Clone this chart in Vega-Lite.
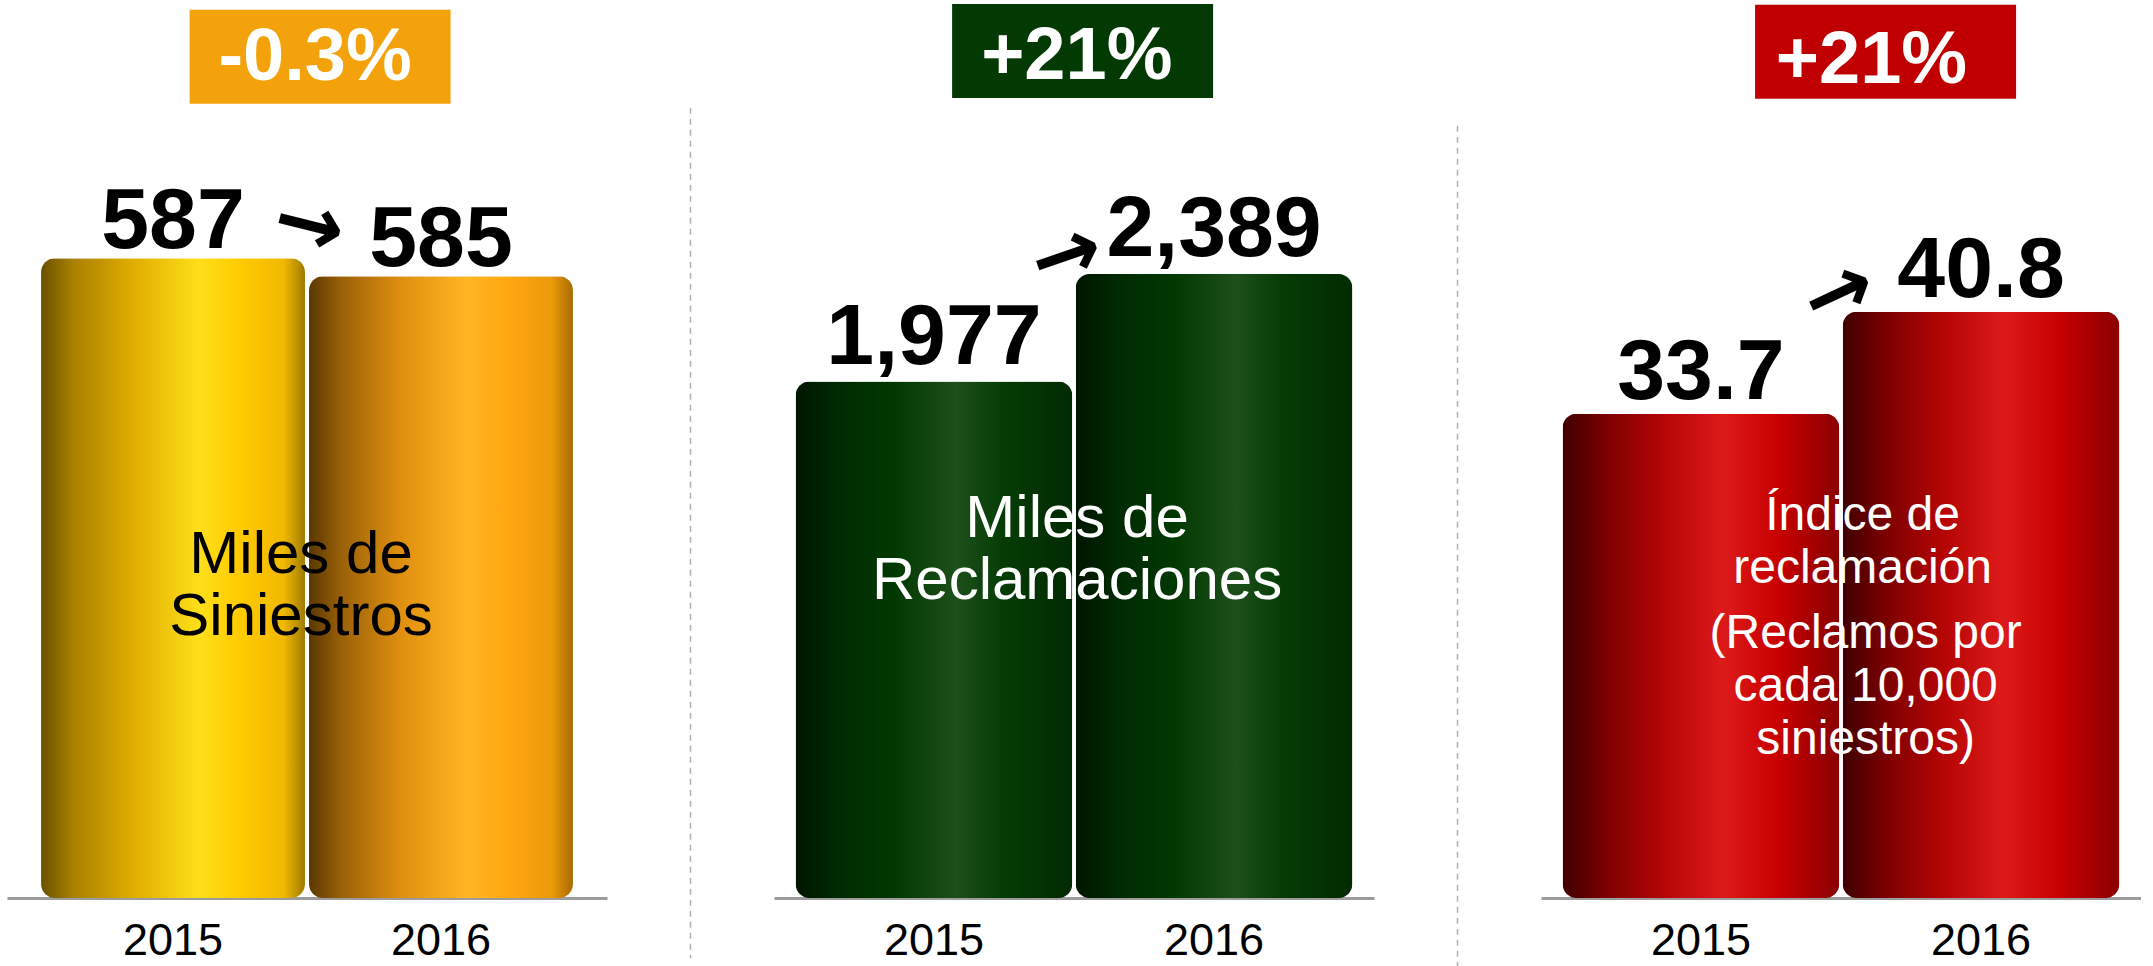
{
  "$schema": "https://vega.github.io/schema/vega-lite/v6.json",
  "background": "white",
  "padding": {"left": 7, "top": 0, "right": 0, "bottom": 0},
  "spacing": 83,
  "bounds": "flush",
  "config": {"view": {"stroke": null}, "font": "Liberation Sans"},
  "datasets": {
    "bars": [
      {"panel": "siniestros", "year": "2015", "v": 587},
      {"panel": "siniestros", "year": "2016", "v": 585},
      {"panel": "reclamaciones", "year": "2015", "v": 1977},
      {"panel": "reclamaciones", "year": "2016", "v": 2389},
      {"panel": "indice", "year": "2015", "v": 33.7},
      {"panel": "indice", "year": "2016", "v": 40.8}
    ],
    "notes": [
      {"panel": "siniestros", "from": "2015", "to": "2016", "change": "-0.3%", "label": ["Miles de", "Siniestros"], "label2": [""]},
      {"panel": "reclamaciones", "from": "2015", "to": "2016", "change": "+21%", "label": ["Miles de", "Reclamaciones"], "label2": [""]},
      {"panel": "indice", "from": "2015", "to": "2016", "change": "+21%", "label": ["Índice de", "reclamación"], "label2": ["(Reclamos por", "cada 10,000", "siniestros)"]}
    ]
  },
  "hconcat": [
    {
      "width": 600, "height": 898,
      "layer": [
        {"data": {"name": "bars"}, "transform": [{"filter": "datum.panel === 'siniestros' && datum.year === '2015'"}],
         "mark": {"type": "bar", "cornerRadius": 14, "color": {"gradient": "linear", "x1": 0, "y1": 0, "x2": 1, "y2": 0, "stops": [
           {"offset": 0, "color": "#6a5000"}, {"offset": 0.12, "color": "#a88000"}, {"offset": 0.35, "color": "#e0ae00"}, {"offset": 0.6, "color": "#ffdf1a"}, {"offset": 0.75, "color": "#ffcb00"}, {"offset": 0.92, "color": "#f0b800"}, {"offset": 1, "color": "#a07a00"}]}},
         "encoding": {
           "x": {"field": "year", "type": "nominal", "scale": {"domain": ["2015", "2016"], "paddingInner": 0.015, "paddingOuter": 0.127},
             "axis": {"title": null, "labelAngle": 0, "ticks": false, "domainColor": "#9c9c9c", "domainWidth": 3, "labelFontSize": 45, "labelColor": "black", "labelPadding": 56, "labelBaseline": "alphabetic", "labelFont": "Liberation Sans"}},
           "y": {"field": "v", "type": "quantitative", "scale": {"domain": [515.9, 615.7], "zero": false, "nice": false, "clamp": true}, "axis": null}
         }},
        {"data": {"name": "bars"}, "transform": [{"filter": "datum.panel === 'siniestros' && datum.year === '2016'"}],
         "mark": {"type": "bar", "cornerRadius": 14, "color": {"gradient": "linear", "x1": 0, "y1": 0, "x2": 1, "y2": 0, "stops": [
           {"offset": 0, "color": "#5a3800"}, {"offset": 0.12, "color": "#9a6008"}, {"offset": 0.35, "color": "#e09010"}, {"offset": 0.6, "color": "#ffb522"}, {"offset": 0.75, "color": "#ffa812"}, {"offset": 0.92, "color": "#eb9a0a"}, {"offset": 1, "color": "#a86a00"}]}},
         "encoding": {"x": {"field": "year", "type": "nominal"}, "y": {"field": "v", "type": "quantitative"}}},
        {"data": {"name": "bars"}, "transform": [{"filter": "datum.panel === 'siniestros'"}],
         "mark": {"type": "text", "font": "Liberation Sans", "fontWeight": "bold", "fontSize": 86, "baseline": "alphabetic", "dy": -10, "color": "black"},
         "encoding": {"x": {"field": "year", "type": "nominal"}, "y": {"field": "v", "type": "quantitative"}, "text": {"field": "v", "type": "quantitative", "format": "d"}}},
        {"data": {"name": "notes"}, "transform": [{"filter": "datum.panel === 'siniestros'"}],
         "mark": {"type": "point", "shape": "M-1,-0.36L1,-0.36L1,0.36L-1,0.36Z", "size": 68121, "filled": true, "opacity": 1, "color": "#f3a20b"},
         "encoding": {"x": {"field": "to", "type": "nominal", "bandPosition": 0.042}, "y": {"datum": 609.4, "type": "quantitative"}}},
        {"data": {"name": "notes"}, "transform": [{"filter": "datum.panel === 'siniestros'"}],
         "mark": {"type": "text", "font": "Liberation Sans", "fontWeight": "bold", "fontSize": 74, "baseline": "alphabetic", "color": "white"},
         "encoding": {"x": {"field": "to", "type": "nominal", "bandPosition": 0.023}, "y": {"datum": 606.8, "type": "quantitative"}, "text": {"field": "change"}}},
        {"data": {"name": "notes"}, "transform": [{"filter": "datum.panel === 'siniestros'"}],
         "mark": {"type": "text", "font": "DejaVu Sans", "fontWeight": "bold", "fontSize": 84, "baseline": "middle", "angle": 14, "color": "black", "text": "→"},
         "encoding": {"x": {"field": "to", "type": "nominal", "bandPosition": 0}, "y": {"datum": 590.5, "type": "quantitative"}}},
        {"data": {"name": "notes"}, "transform": [{"filter": "datum.panel === 'siniestros'"}],
         "mark": {"type": "text", "font": "Liberation Sans", "fontSize": 60, "lineHeight": 62, "baseline": "alphabetic", "color": "black"},
         "encoding": {"x": {"field": "from", "type": "nominal", "bandPosition": 0.985}, "y": {"datum": 552.0, "type": "quantitative"}, "text": {"field": "label"}}}
      ]
    },
    {
      "width": 1, "height": 898,
      "data": {"values": [{"sep": 1}]},
      "mark": {"type": "rule", "strokeDash": [6, 5], "color": "#b0b0b0", "strokeWidth": 1.5},
      "encoding": {"y": {"datum": 0.88, "type": "quantitative", "scale": {"domain": [0, 1], "nice": false}, "axis": null}, "y2": {"datum": -0.067}}
    },
    {
      "width": 600, "height": 898,
      "layer": [
        {"data": {"name": "bars"}, "transform": [{"filter": "datum.panel === 'reclamaciones'"}],
         "mark": {"type": "bar", "cornerRadius": 14, "color": {"gradient": "linear", "x1": 0, "y1": 0, "x2": 1, "y2": 0, "stops": [
           {"offset": 0, "color": "#001500"}, {"offset": 0.15, "color": "#002a02"}, {"offset": 0.35, "color": "#013802"}, {"offset": 0.58, "color": "#1d4f1a"}, {"offset": 0.75, "color": "#053c05"}, {"offset": 1, "color": "#022a02"}]}},
         "encoding": {
           "x": {"field": "year", "type": "nominal", "scale": {"domain": ["2015", "2016"], "paddingInner": 0.012, "paddingOuter": 0.077},
             "axis": {"title": null, "labelAngle": 0, "ticks": false, "domainColor": "#9c9c9c", "domainWidth": 3, "labelFontSize": 45, "labelColor": "black", "labelPadding": 56, "labelBaseline": "alphabetic", "labelFont": "Liberation Sans"}},
           "y": {"field": "v", "type": "quantitative", "scale": {"domain": [0, 3438], "nice": false}, "axis": null}
         }},
        {"data": {"name": "bars"}, "transform": [{"filter": "datum.panel === 'reclamaciones'"}],
         "mark": {"type": "text", "font": "Liberation Sans", "fontWeight": "bold", "fontSize": 86, "baseline": "alphabetic", "dy": -18, "color": "black"},
         "encoding": {"x": {"field": "year", "type": "nominal"}, "y": {"field": "v", "type": "quantitative"}, "text": {"field": "v", "type": "quantitative", "format": ","}}},
        {"data": {"name": "notes"}, "transform": [{"filter": "datum.panel === 'reclamaciones'"}],
         "mark": {"type": "point", "shape": "M-1,-0.36L1,-0.36L1,0.36L-1,0.36Z", "size": 68121, "filled": true, "opacity": 1, "color": "#033a03"},
         "encoding": {"x": {"field": "to", "type": "nominal", "bandPosition": 0.025}, "y": {"datum": 3243, "type": "quantitative"}}},
        {"data": {"name": "notes"}, "transform": [{"filter": "datum.panel === 'reclamaciones'"}],
         "mark": {"type": "text", "font": "Liberation Sans", "fontWeight": "bold", "fontSize": 74, "baseline": "alphabetic", "color": "white"},
         "encoding": {"x": {"field": "to", "type": "nominal", "bandPosition": 0.004}, "y": {"datum": 3135.6, "type": "quantitative"}, "text": {"field": "change"}}},
        {"data": {"name": "notes"}, "transform": [{"filter": "datum.panel === 'reclamaciones'"}],
         "mark": {"type": "text", "font": "DejaVu Sans", "fontWeight": "bold", "fontSize": 84, "baseline": "middle", "angle": 341, "color": "black", "text": "→"},
         "encoding": {"x": {"field": "from", "type": "nominal", "bandPosition": 0.98}, "y": {"datum": 2454, "type": "quantitative"}}},
        {"data": {"name": "notes"}, "transform": [{"filter": "datum.panel === 'reclamaciones'"}],
         "mark": {"type": "text", "font": "Liberation Sans", "fontSize": 60, "lineHeight": 62, "baseline": "alphabetic", "color": "white"},
         "encoding": {"x": {"field": "to", "type": "nominal", "bandPosition": 0.005}, "y": {"datum": 1382, "type": "quantitative"}, "text": {"field": "label"}}}
      ]
    },
    {
      "width": 1, "height": 898,
      "data": {"values": [{"sep": 2}]},
      "mark": {"type": "rule", "strokeDash": [6, 5], "color": "#b0b0b0", "strokeWidth": 1.5},
      "encoding": {"y": {"datum": 0.86, "type": "quantitative", "scale": {"domain": [0, 1], "nice": false}, "axis": null}, "y2": {"datum": -0.076}}
    },
    {
      "width": 600, "height": 898,
      "layer": [
        {"data": {"name": "bars"}, "transform": [{"filter": "datum.panel === 'indice'"}],
         "mark": {"type": "bar", "cornerRadius": 14, "color": {"gradient": "linear", "x1": 0, "y1": 0, "x2": 1, "y2": 0, "stops": [
           {"offset": 0, "color": "#3f0000"}, {"offset": 0.15, "color": "#7a0000"}, {"offset": 0.35, "color": "#b20404"}, {"offset": 0.58, "color": "#dd1a1a"}, {"offset": 0.78, "color": "#c80000"}, {"offset": 1, "color": "#8a0000"}]}},
         "encoding": {
           "x": {"field": "year", "type": "nominal", "scale": {"domain": ["2015", "2016"], "paddingInner": 0.012, "paddingOuter": 0.077},
             "axis": {"title": null, "labelAngle": 0, "ticks": false, "domainColor": "#9c9c9c", "domainWidth": 3, "labelFontSize": 45, "labelColor": "black", "labelPadding": 56, "labelBaseline": "alphabetic", "labelFont": "Liberation Sans"}},
           "y": {"field": "v", "type": "quantitative", "scale": {"domain": [0, 62.5], "nice": false}, "axis": null}
         }},
        {"data": {"name": "bars"}, "transform": [{"filter": "datum.panel === 'indice'"}],
         "mark": {"type": "text", "font": "Liberation Sans", "fontWeight": "bold", "fontSize": 86, "baseline": "alphabetic", "dy": -15, "color": "black"},
         "encoding": {"x": {"field": "year", "type": "nominal"}, "y": {"field": "v", "type": "quantitative"}, "text": {"field": "v", "type": "quantitative", "format": ".1f"}}},
        {"data": {"name": "notes"}, "transform": [{"filter": "datum.panel === 'indice'"}],
         "mark": {"type": "point", "shape": "M-1,-0.36L1,-0.36L1,0.36L-1,0.36Z", "size": 68121, "filled": true, "opacity": 1, "color": "#c00000"},
         "encoding": {"x": {"field": "to", "type": "nominal", "bandPosition": 0.155}, "y": {"datum": 58.9, "type": "quantitative"}}},
        {"data": {"name": "notes"}, "transform": [{"filter": "datum.panel === 'indice'"}],
         "mark": {"type": "text", "font": "Liberation Sans", "fontWeight": "bold", "fontSize": 74, "baseline": "alphabetic", "color": "white"},
         "encoding": {"x": {"field": "to", "type": "nominal", "bandPosition": 0.104}, "y": {"datum": 56.72, "type": "quantitative"}, "text": {"field": "change"}}},
        {"data": {"name": "notes"}, "transform": [{"filter": "datum.panel === 'indice'"}],
         "mark": {"type": "text", "font": "DejaVu Sans", "fontWeight": "bold", "fontSize": 84, "baseline": "middle", "angle": 335, "color": "black", "text": "→"},
         "encoding": {"x": {"field": "from", "type": "nominal", "bandPosition": 1}, "y": {"datum": 42.0, "type": "quantitative"}}},
        {"data": {"name": "notes"}, "transform": [{"filter": "datum.panel === 'indice'"}],
         "mark": {"type": "text", "font": "Liberation Sans", "fontSize": 48, "lineHeight": 53, "baseline": "alphabetic", "color": "white"},
         "encoding": {"x": {"field": "to", "type": "nominal", "bandPosition": 0.072}, "y": {"datum": 25.61, "type": "quantitative"}, "text": {"field": "label"}}},
        {"data": {"name": "notes"}, "transform": [{"filter": "datum.panel === 'indice'"}],
         "mark": {"type": "text", "font": "Liberation Sans", "fontSize": 48, "lineHeight": 53, "baseline": "alphabetic", "color": "white"},
         "encoding": {"x": {"field": "to", "type": "nominal", "bandPosition": 0.083}, "y": {"datum": 17.4, "type": "quantitative"}, "text": {"field": "label2"}}}
      ]
    }
  ]
}
